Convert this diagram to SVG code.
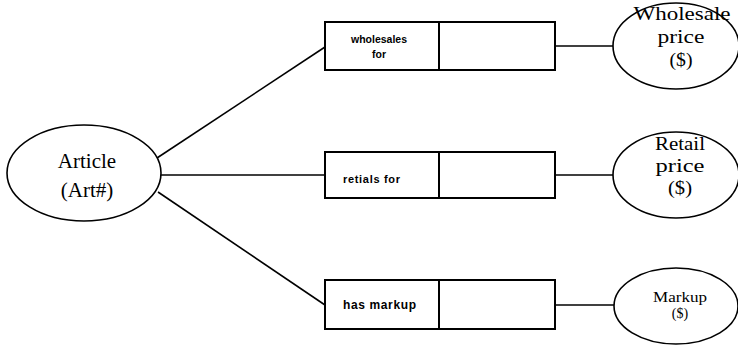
<svg xmlns="http://www.w3.org/2000/svg" width="738" height="351" viewBox="0 0 738 351">
  <style>
    .ent { fill: #fff; stroke: #000; stroke-width: 1.6; }
    .box { fill: #fff; stroke: #000; stroke-width: 2; }
    .link { stroke: #000; stroke-width: 1.6; fill: none; }
    .serif { font-family: "Liberation Serif", "Times New Roman", serif; fill: #000; text-anchor: middle; }
    .sans { font-family: "Liberation Sans", Arial, sans-serif; font-weight: bold; fill: #000; }
  </style>
  <rect width="738" height="351" fill="#fff"/>

  <!-- connectors -->
  <g id="connectors">
    <line class="link" x1="157" y1="158" x2="325" y2="47"/>
    <line class="link" x1="161" y1="175" x2="325" y2="175"/>
    <line class="link" x1="158" y1="192" x2="325" y2="305"/>
    <line class="link" x1="555" y1="46" x2="614" y2="46"/>
    <line class="link" x1="555" y1="175" x2="614" y2="175"/>
    <line class="link" x1="555" y1="305" x2="615" y2="305"/>
  </g>

  <!-- entity: Article -->
  <g id="article">
    <ellipse class="ent" cx="84" cy="173" rx="77" ry="48"/>
    <text class="serif" x="87" y="168" font-size="21">Article</text>
    <text class="serif" x="87" y="197" font-size="21">(Art#)</text>
  </g>

  <!-- fact type: wholesales for -->
  <g id="wholesales-for">
    <rect class="box" x="325" y="22" width="230" height="48"/>
    <line class="box" x1="439" y1="22" x2="439" y2="70"/>
    <text class="sans" x="379" y="43" font-size="10.5" text-anchor="middle">wholesales</text>
    <text class="sans" x="379" y="58" font-size="10.5" text-anchor="middle">for</text>
  </g>

  <!-- fact type: retials for -->
  <g id="retials-for">
    <rect class="box" x="325" y="152" width="230" height="46"/>
    <line class="box" x1="439" y1="152" x2="439" y2="198"/>
    <text class="sans" x="343" y="183" font-size="11" textLength="57">retials for</text>
  </g>

  <!-- fact type: has markup -->
  <g id="has-markup">
    <rect class="box" x="325" y="280" width="230" height="49"/>
    <line class="box" x1="439" y1="280" x2="439" y2="329"/>
    <text class="sans" x="343" y="309" font-size="12" textLength="73">has markup</text>
  </g>

  <!-- entity: Wholesale price -->
  <g id="wholesale-price">
    <ellipse class="ent" cx="676" cy="46" rx="63" ry="43"/>
    <text class="serif" x="682" y="20" font-size="19" textLength="97" lengthAdjust="spacingAndGlyphs">Wholesale</text>
    <text class="serif" x="681" y="43" font-size="19" textLength="47" lengthAdjust="spacingAndGlyphs">price</text>
    <text class="serif" x="681" y="66" font-size="19" textLength="23" lengthAdjust="spacingAndGlyphs">($)</text>
  </g>

  <!-- entity: Retail price -->
  <g id="retail-price">
    <ellipse class="ent" cx="676" cy="175" rx="63" ry="43"/>
    <text class="serif" x="680" y="150" font-size="19" textLength="50" lengthAdjust="spacingAndGlyphs">Retail</text>
    <text class="serif" x="680" y="172" font-size="19" textLength="49" lengthAdjust="spacingAndGlyphs">price</text>
    <text class="serif" x="680" y="194" font-size="19" textLength="24" lengthAdjust="spacingAndGlyphs">($)</text>
  </g>

  <!-- entity: Markup -->
  <g id="markup">
    <ellipse class="ent" cx="676" cy="306" rx="62" ry="38"/>
    <text class="serif" x="680" y="302" font-size="14" textLength="54" lengthAdjust="spacingAndGlyphs">Markup</text>
    <text class="serif" x="680" y="318" font-size="14">($)</text>
  </g>
</svg>
